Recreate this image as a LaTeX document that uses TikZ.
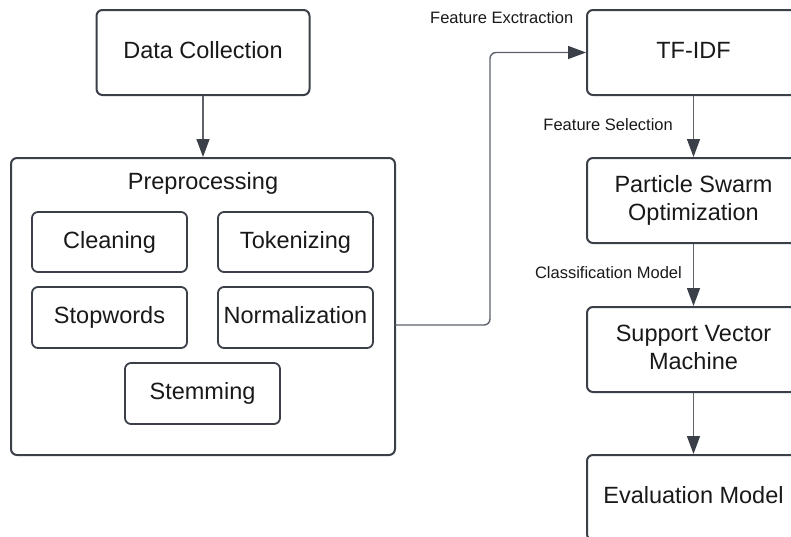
\documentclass[tikz,border=0pt]{standalone}
\usepackage{fontspec}
\setmainfont{Liberation Sans}
\usetikzlibrary{arrows.meta}
\definecolor{boxline}{RGB}{58,63,72}
\definecolor{arrline}{RGB}{92,97,106}
\definecolor{txt}{RGB}{25,25,25}

\begin{document}
\begin{tikzpicture}[x=1pt,y=-1pt,
  block/.style={draw=boxline, line width=2pt, rounded corners=6pt, text=txt, align=center,
    font=\fontsize{23.5}{28}\selectfont, inner sep=0pt, text depth=5pt},
  flow/.style={draw=arrline, line width=1.4pt, -{Triangle[width=13pt,length=18pt,fill=boxline,color=boxline]}},
  lbl/.style={text=txt, font=\fontsize{16.5}{20}\selectfont, inner sep=0pt}]
\useasboundingbox (0,0) rectangle (791,536);
\clip (0,0) rectangle (791,536);
% left column
\node [block, minimum width=213, minimum height=85] (dc) at (203,52.5) {Data Collection};
\node [block, minimum width=384, minimum height=297] (pre) at (203,306.5) {};
\node [text=txt, font=\fontsize{23.5}{28}\selectfont, inner sep=0pt, text depth=5pt] (pretitle) at (203,183) {Preprocessing};
\node [block, line width=1.8pt, minimum width=155, minimum height=60] (clean) at (109.5,242) {Cleaning};
\node [block, line width=1.8pt, minimum width=155, minimum height=60] (token) at (295.5,242) {Tokenizing};
\node [block, line width=1.8pt, minimum width=155, minimum height=61] (stop) at (109.5,317.5) {Stopwords};
\node [block, line width=1.8pt, minimum width=155, minimum height=61] (norm) at (295.5,317.5) {Normalization};
\node [block, line width=1.8pt, minimum width=155, minimum height=61] (stem) at (202.5,393.5) {Stemming};
% right column
\node [block, minimum width=213, minimum height=85] (tfidf) at (693.5,52.5) {TF-IDF};
\node [block, minimum width=213, minimum height=85] (pso) at (693.5,200.5) {Particle Swarm\\Optimization};
\node [block, minimum width=213, minimum height=85] (svm) at (693.5,349.5) {Support Vector\\Machine};
\node [block, minimum width=213, minimum height=85] (eval) at (693.5,497.5) {Evaluation Model};
% labels
\node [lbl, anchor=west] (fext) at (430,18) {Feature Exctraction};
\node [lbl, anchor=east] (fsel) at (673,125) {Feature Selection};
\node [lbl, anchor=east] (cmod) at (682,273) {Classification Model};
% connectors
\coordinate (preout) at (395,325);
\coordinate (bend) at (490,52.5);
\draw [flow] (dc) -- (pre);
\draw [flow, rounded corners=6pt] (preout) -| (bend) -- (tfidf.west);
\draw [flow] (tfidf) -- (pso);
\draw [flow] (pso) -- (svm);
\draw [flow] (svm) -- (eval);
\end{tikzpicture}
\end{document}
